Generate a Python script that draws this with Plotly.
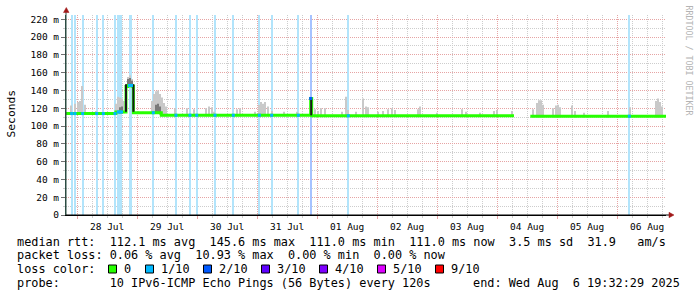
import numpy as np
import pandas as pd
import plotly.graph_objects as go

START = "2025-07-27 19:32:29"
END = "2025-08-06 19:32:29"
Y_TOP = 224.8

y_tick_vals = [0, 20, 40, 60, 80, 100, 120, 140, 160, 180, 200, 220]
y_tick_text = ["0", "20 m", "40 m", "60 m", "80 m", "100 m", "120 m", "140 m",
               "160 m", "180 m", "200 m", "220 m"]

# median rtt (ms), step series
med_time = ["2025-07-27 19:32:29", "2025-07-28 15:30", "2025-07-28 19:32", "2025-07-28 20:20",
            "2025-07-28 21:56", "2025-07-28 22:30", "2025-07-29 09:40", "2025-07-31 21:25",
            "2025-07-31 21:49", "2025-08-04 06:44", "2025-08-04 06:45", "2025-08-04 13:16",
            "2025-08-06 19:32:29"]
med_val = [114.0, 115.8, 144.5, 145.6, 144.8, 115.0, 112.1, 131.0,
           111.5, 111.5, None, 111.0, 111.0]

# samples with packet loss
loss1_time = ["2025-07-27 21:49", "2025-07-27 23:08", "2025-07-28 02:13", "2025-07-28 07:49",
              "2025-07-28 10:28", "2025-07-28 15:08", "2025-07-28 16:28", "2025-07-28 17:08",
              "2025-07-28 17:44", "2025-07-28 20:56", "2025-07-28 21:20", "2025-07-28 21:44",
              "2025-07-29 06:28", "2025-07-29 15:32", "2025-07-29 21:08", "2025-07-29 23:49",
              "2025-07-30 07:08", "2025-07-30 14:28", "2025-07-31 00:52", "2025-07-31 05:49",
              "2025-07-31 16:28", "2025-08-01 12:28", "2025-08-06 04:52"]
loss2_time = ["2025-07-31 21:25"]

# smoke: max ping per sample (ms)
smoke_time = ["2025-07-27 21:32", "2025-07-27 23:08", "2025-07-28 00:20", "2025-07-28 01:08",
              "2025-07-28 01:56", "2025-07-28 03:08", "2025-07-28 07:32", "2025-07-28 15:32",
              "2025-07-28 16:20", "2025-07-28 17:08", "2025-07-28 17:56", "2025-07-28 18:44",
              "2025-07-28 19:32", "2025-07-28 20:20", "2025-07-28 21:08", "2025-07-28 21:56",
              "2025-07-28 22:44", "2025-07-29 00:20", "2025-07-29 02:20", "2025-07-29 05:56",
              "2025-07-29 06:44", "2025-07-29 07:32", "2025-07-29 08:20", "2025-07-29 09:08",
              "2025-07-29 09:56", "2025-07-29 10:44", "2025-07-29 11:32", "2025-07-29 15:08",
              "2025-07-29 19:56", "2025-07-29 22:44", "2025-07-30 03:32", "2025-07-30 04:44",
              "2025-07-30 05:56", "2025-07-30 06:44", "2025-07-30 15:56", "2025-07-30 17:08",
              "2025-07-30 23:08", "2025-07-31 00:44", "2025-07-31 01:32", "2025-07-31 02:20",
              "2025-07-31 03:08", "2025-07-31 04:20", "2025-07-31 05:56", "2025-07-31 10:44",
              "2025-07-31 15:56", "2025-07-31 23:08", "2025-08-01 00:20", "2025-08-01 01:32",
              "2025-08-01 03:08", "2025-08-01 09:56", "2025-08-01 11:32", "2025-08-01 12:20",
              "2025-08-01 15:32", "2025-08-01 18:20", "2025-08-01 19:32", "2025-08-01 20:20",
              "2025-08-02 00:20", "2025-08-02 02:20", "2025-08-02 04:20", "2025-08-02 05:56",
              "2025-08-02 07:08", "2025-08-02 16:20", "2025-08-02 17:08", "2025-08-02 23:56",
              "2025-08-03 09:56", "2025-08-03 11:32", "2025-08-03 17:08", "2025-08-03 22:44",
              "2025-08-03 23:56", "2025-08-04 05:56", "2025-08-04 14:20", "2025-08-04 15:56",
              "2025-08-04 16:44", "2025-08-04 17:32", "2025-08-04 18:20", "2025-08-04 22:20",
              "2025-08-04 23:32", "2025-08-05 00:20", "2025-08-05 01:08", "2025-08-05 05:56",
              "2025-08-05 07:08", "2025-08-05 10:44", "2025-08-05 20:20", "2025-08-06 05:08",
              "2025-08-06 15:32", "2025-08-06 16:20", "2025-08-06 17:08", "2025-08-06 17:56"]
smoke_top = [123, 125, 127, 128, 145, 124, 117, 125, 133, 132, 131, 128,
             140, 155, 157, 153, 140, 117, 116, 128, 136, 139, 140, 136,
             132, 126, 122, 120, 120, 119, 120, 122, 121, 116, 119, 120,
             116, 124, 127, 125, 127, 122, 117, 116, 116, 119, 117, 120,
             120, 116, 133, 118, 116, 131, 122, 121, 116, 117, 119, 120,
             118, 119, 122, 115, 119, 116, 115, 117, 118, 117, 119, 126,
             129, 129, 124, 120, 123, 124, 121, 123, 117, 115, 117, 121,
             128, 131, 127, 122]

# denser smoke (mid grey)
mid_time = ["2025-07-28 17:08", "2025-07-28 17:56", "2025-07-28 20:20", "2025-07-28 21:08",
            "2025-07-28 21:56", "2025-07-29 07:32", "2025-07-29 08:20", "2025-07-29 09:08"]
mid_lo = [114, 114, 145, 145, 145, 114, 114, 113]
mid_hi = [121, 122, 153, 154, 151, 124, 125, 122]

# darkest smoke
dark_time = ["2025-07-28 19:32", "2025-07-28 22:30", "2025-07-31 21:37"]
dark_lo = [116, 116, 112]
dark_hi = [147, 147, 131]

legend_labels = ["0", "1/10", "2/10", "3/10", "4/10", "5/10", "9/10"]
legend_colors = ["#26ff00", "#00b8ff", "#0059ff", "#5e00ff", "#7e00ff", "#dd00ff", "#ff0000"]

line_rtt = "median rtt:  112.1 ms avg  145.6 ms max  111.0 ms min  111.0 ms now  3.5 ms sd  31.9   am/s"
line_loss = "packet loss: 0.06 % avg  10.93 % max  0.00 % min  0.00 % now"
line_color = "loss color:"
line_probe = "probe:       10 IPv6-ICMP Echo Pings (56 Bytes) every 120s"
line_end = "end: Wed Aug  6 19:32:29 2025"
watermark = "RRDTOOL / TOBI OETIKER"

# ---------------------------------------------------------------
MONO = "DejaVu Sans Mono"
W, H = 697, 297
PL, PT, PW, PH = 66, 15, 600, 200


def xp(px):
    return (px - PL) / PW


def yp(py):
    return (PT + PH - py) / PH


med_t = pd.to_datetime(med_time, format="mixed")


def med_at(ts):
    i = int(np.searchsorted(med_t.values, np.datetime64(pd.Timestamp(ts)), side="right")) - 1
    return med_val[max(i, 0)]


MIN = 60 * 1000
fig = go.Figure()

# loss columns
fig.add_trace(go.Bar(x=loss1_time, y=[Y_TOP] * len(loss1_time), base=0, width=22 * MIN,
                     marker=dict(color="#b2e4fb", line=dict(width=0)), hoverinfo="skip"))
fig.add_trace(go.Bar(x=loss2_time, y=[Y_TOP] * len(loss2_time), base=0, width=22 * MIN,
                     marker=dict(color="#a6c2ff", line=dict(width=0)), hoverinfo="skip"))

# light smoke
sx, sb, sh = [], [], []
for t, top in zip(smoke_time, smoke_top):
    m = med_at(t)
    if m is None:
        continue
    sx.append(t)
    sb.append(m - 1.5)
    sh.append(top - (m - 1.5))
fig.add_trace(go.Bar(x=sx, y=sh, base=sb, width=44 * MIN,
                     marker=dict(color="#c9c9c9", line=dict(width=0)), hoverinfo="skip"))
# mid smoke
fig.add_trace(go.Bar(x=mid_time, y=[h - l for h, l in zip(mid_hi, mid_lo)], base=mid_lo,
                     width=44 * MIN, marker=dict(color="#7a7a7a", line=dict(width=0)),
                     hoverinfo="skip"))

# median line
fig.add_trace(go.Scatter(x=med_time, y=med_val, mode="lines", connectgaps=False,
                         line=dict(color=legend_colors[0], width=3, shape="hv"),
                         hoverinfo="skip"))
# dark smoke (vertical strokes above the median transitions)
dx, dy = [], []
for t, lo, hi in zip(dark_time, dark_lo, dark_hi):
    dx += [t, t, None]
    dy += [lo, hi, None]
fig.add_trace(go.Scatter(x=dx, y=dy, mode="lines", line=dict(color="#1a1a1a", width=2),
                         hoverinfo="skip"))
# loss-coloured median samples
fig.add_trace(go.Scatter(x=loss1_time, y=[med_at(t) for t in loss1_time], mode="markers",
                         marker=dict(symbol="square", size=3, color=legend_colors[1]),
                         hoverinfo="skip"))
fig.add_trace(go.Scatter(x=loss2_time, y=[med_at(t) for t in loss2_time], mode="markers",
                         marker=dict(symbol="square", size=3, color=legend_colors[2]),
                         hoverinfo="skip"))

MGRID = "#e6a4a4"
GRID = "#cdcdcd"
AXIS = "#2c4d43"
ARROW = "#a01818"

fig.update_layout(
    width=W, height=H,
    margin=dict(l=PL, r=W - PL - PW, t=PT, b=H - PT - PH, pad=0),
    paper_bgcolor="white", plot_bgcolor="white",
    showlegend=False, barmode="overlay",
    font=dict(family=MONO, size=9.5, color="black"),
    xaxis=dict(
        type="date", range=[START, END],
        tick0="2025-07-28", dtick=86400000, tickformat="%d %b", ticklabelmode="period",
        showgrid=True, gridcolor=MGRID, griddash="1px,1px", gridwidth=1,
        ticks="outside", ticklen=3, tickcolor=MGRID,
        minor=dict(dtick=21600000, tick0="2025-07-28", showgrid=True, gridcolor=GRID,
                   griddash="1px,1px", ticks="outside", ticklen=2, tickcolor=GRID),
        showline=True, linecolor="black", linewidth=1,
        tickfont=dict(family=MONO, size=9.5, color="black"),
        zeroline=False, fixedrange=True,
    ),
    yaxis=dict(
        range=[0, Y_TOP], tickvals=y_tick_vals, ticktext=y_tick_text,
        showgrid=True, gridcolor=MGRID, griddash="1px,1px", gridwidth=1,
        ticks="outside", ticklen=4, tickcolor="#707070",
        minor=dict(dtick=10, showgrid=True, gridcolor=GRID, griddash="1px,1px",
                   ticks="outside", ticklen=2, tickcolor=GRID),
        showline=True, linecolor=AXIS, linewidth=1,
        tickfont=dict(family=MONO, size=9.5, color="black"),
        zeroline=False, fixedrange=True,
    ),
)

shapes = []
# axis extensions and arrows
shapes.append(dict(type="line", xref="paper", yref="paper", x0=xp(66), x1=xp(66),
                   y0=yp(215), y1=yp(11), line=dict(color=AXIS, width=1)))
shapes.append(dict(type="line", xref="paper", yref="paper", x0=xp(66), x1=xp(670),
                   y0=yp(215), y1=yp(215), line=dict(color="black", width=1)))
shapes.append(dict(type="path", xref="paper", yref="paper",
                   path=f"M {xp(63.5)},{yp(12.5)} L {xp(69)},{yp(12.5)} L {xp(66.3)},{yp(7.5)} Z",
                   fillcolor=ARROW, line=dict(color=ARROW, width=0.5)))
shapes.append(dict(type="path", xref="paper", yref="paper",
                   path=f"M {xp(669)},{yp(212.3)} L {xp(669)},{yp(217.7)} L {xp(674)},{yp(215)} Z",
                   fillcolor=ARROW, line=dict(color=ARROW, width=0.5)))
# loss colour boxes
box_left = [108.5, 145.5, 203.5, 261.5, 319.5, 377.5, 435.5]
for bx, col in zip(box_left, legend_colors):
    shapes.append(dict(type="rect", xref="paper", yref="paper",
                       x0=xp(bx), x1=xp(bx + 8), y0=yp(273), y1=yp(265),
                       fillcolor=col, line=dict(color="black", width=1)))
fig.update_layout(shapes=shapes)

NB = "\u00a0"
TXT = 11.85


def ann(text, px, py, anchor="left", size=TXT, color="black", angle=0):
    fig.add_annotation(text=text.replace(" ", NB), x=xp(px), y=yp(py), xref="paper",
                       yref="paper", xanchor=anchor, yanchor="middle", showarrow=False,
                       textangle=angle, borderpad=0,
                       font=dict(family=MONO, size=size, color=color))


ann(line_rtt, 15.5, 241.5)
ann(line_loss, 15.5, 255.2)
ann(line_color, 15.5, 269.2)
for bx, lab in zip(box_left, legend_labels):
    ann(lab, bx + 14.5, 269.2)
ann(line_probe, 15.5, 283)
ann(line_end, 680.5, 283, anchor="right")

ann("Seconds", 11, 113.5, anchor="center", size=11.3, angle=-90)
ann(watermark, 688.5, 60, anchor="center", size=8.3, color="#b4b4b4", angle=90)

fig.write_html("out.html")
